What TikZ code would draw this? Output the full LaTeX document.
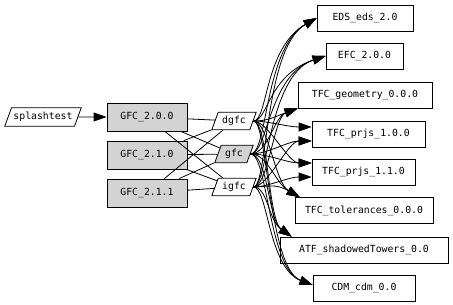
\documentclass[tikz,border=0pt]{standalone}
\usepackage{fontspec}
\setmonofont{DejaVu Sans Mono}
\usetikzlibrary{shapes.geometric,arrows.meta}

\definecolor{gvgray}{HTML}{D3D3D3}
\tikzset{
  every node/.style={font=\ttfamily\fontsize{9.8}{11}\selectfont},
  pkg/.style={draw,rectangle,line width=0.8pt,minimum height=26pt,inner xsep=0pt},
  ver/.style={pkg,fill=gvgray,minimum width=80pt,minimum height=28pt},
  lib/.style={draw,trapezium,trapezium left angle=70,trapezium right angle=110,
    trapezium stretches body,line width=0.8pt,inner xsep=4pt,inner ysep=4pt},
  dep/.style={line width=0.8pt,-{Triangle[length=13pt,width=9pt]}},
  use/.style={line width=0.8pt}
}

\begin{document}
\begin{tikzpicture}[x=1pt,y=-1pt]
  \useasboundingbox (0,0) rectangle (453,305);
  % test and the GFC versions
  \node[lib,inner xsep=2pt,inner ysep=4.5pt] (splash) at (43,117) {splashtest};
  \node[ver] (g200) at (147,117) {GFC\_2.0.0};
  \node[ver] (g210) at (147,155) {GFC\_2.1.0};
  \node[ver] (g211) at (147,193) {GFC\_2.1.1};
  % libraries
  \node[lib] (dgfc) at (234,121) {dgfc};
  \node[lib,fill=gvgray] (gfc) at (234,154) {gfc};
  \node[lib] (igfc) at (234,187) {igfc};
  % packages
  \node[pkg,minimum width=96pt] (eds) at (365,18) {EDS\_eds\_2.0};
  \node[pkg,minimum width=77pt] (efc) at (364.5,56) {EFC\_2.0.0};
  \node[pkg,minimum width=134pt] (geo) at (365,95) {TFC\_geometry\_0.0.0};
  \node[pkg,minimum width=113pt] (p10) at (368.5,134) {TFC\_prjs\_1.0.0};
  \node[pkg,minimum width=103pt] (p11) at (363.5,172) {TFC\_prjs\_1.1.0};
  \node[pkg,minimum width=138pt] (tol) at (364,210.5) {TFC\_tolerances\_0.0.0};
  \node[pkg,minimum width=168pt] (atf) at (364,250) {ATF\_shadowedTowers\_0.0};
  \node[pkg,minimum width=102pt] (cdm) at (364,288) {CDM\_cdm\_0.0};

  % ends on the split boxes
  \coordinate (p10-up) at ([yshift=7pt]p10.west);
  \coordinate (p10-lo) at ([yshift=-7pt]p10.west);
  \coordinate (p11-up) at ([yshift=9pt]p11.west);
  \coordinate (p11-lo) at ([yshift=-5pt]p11.west);

  % control points
  \coordinate (dgfc-c) at (268,121);
  \coordinate (gfc-c) at (268,154);
  \coordinate (igfc-c) at (268,187);
  \coordinate (eds-c) at (264,48);
  \coordinate (efc-c) at (268,75);
  \coordinate (geo-c) at (274,117);
  \coordinate (p10-up-c) at (288,127);
  \coordinate (p10-lo-c) at (288,141);
  \coordinate (p11-up-c) at (288,163);
  \coordinate (p11-lo-c) at (288,177);
  \coordinate (tol-c) at (275,183);
  \coordinate (atf-c) at (268,220);
  \coordinate (cdm-c) at (268,268);

  \draw[dep] (splash) -- (g200);
  \foreach \g in {g200,g210,g211}
    \foreach \m in {dgfc,gfc,igfc}
      \draw[use] (\g) -- (\m);

  \foreach \m/\a/\b in {dgfc/up/up,gfc/lo/up,igfc/lo/lo} {
    \draw[dep] (\m.east) .. controls (\m-c) and (eds-c) .. (eds.west);
    \draw[dep] (\m.east) .. controls (\m-c) and (efc-c) .. (efc.west);
    \draw[dep] (\m.east) .. controls (\m-c) and (geo-c) .. (geo.south west);
    \draw[dep] (\m.east) .. controls (\m-c) and (p10-\a-c) .. (p10-\a);
    \draw[dep] (\m.east) .. controls (\m-c) and (p11-\b-c) .. (p11-\b);
    \draw[dep] (\m.east) .. controls (\m-c) and (tol-c) .. ([xshift=5pt]tol.north west);
    \draw[dep] (\m.east) .. controls (\m-c) and (atf-c) .. ([xshift=12pt]atf.north west);
    \draw[dep] (\m.east) .. controls (\m-c) and (cdm-c) .. ([yshift=3pt]cdm.west);
  }
\end{tikzpicture}
\end{document}
